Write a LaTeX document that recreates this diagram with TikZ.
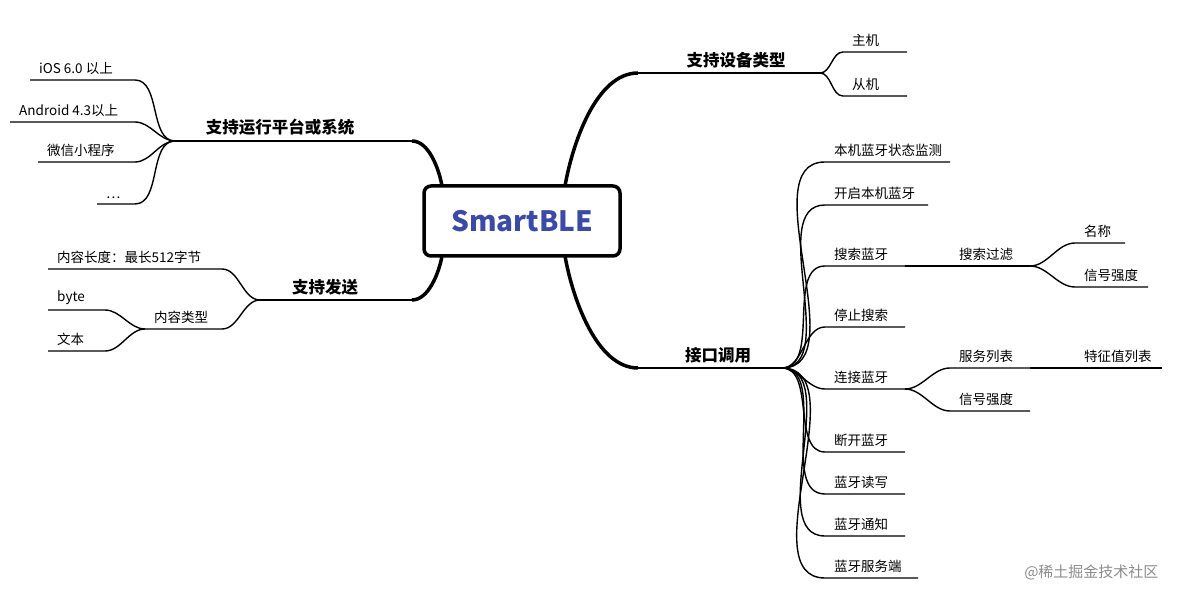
\documentclass[tikz,border=0pt]{standalone}
\usepackage{fontspec}
\setmainfont{Noto Sans CJK SC}
\definecolor{titleblue}{HTML}{3A4AA6}
\begin{document}
\begin{tikzpicture}[x=1pt,y=1pt,
  leaf/.style={anchor=south west,inner xsep=9pt,inner ysep=5pt,font=\fontsize{13.5}{15}\selectfont},
  branch/.style={anchor=south,inner sep=5pt,font=\fontsize{16.5}{18}\selectfont\bfseries},
  thin/.style={line width=1.4pt},
  thick/.style={line width=3.5pt},
  cv/.style={out=0,in=180,looseness=0.9},
  cvl/.style={out=180,in=0,looseness=0.9}]
\useasboundingbox (0,0) rectangle (1179,-601);
% center
\node[draw,line width=3.5pt,rounded corners=7pt,minimum width=196pt,minimum height=70pt,font=\fontsize{28}{32}\selectfont\bfseries,text=titleblue] (c) at (522,-221) {SmartBLE};
% ---- right top
\coordinate (rt0) at (638,-73); \coordinate (rt1) at (820,-73);
\draw[thick] (565,-186) to[out=80,in=180,looseness=0.8] (rt0);
\draw[thin] (rt0) -- (rt1);
\node[branch] (rtl) at (736,-73) {支持设备类型};
\foreach \n/\y/\t in {a/52/主机,b/96/从机}{
  \coordinate (rt\n s) at (843,-\y); \coordinate (rt\n e) at (907,-\y);
  \draw[thin] (rt1) to[cv] (rt\n s) -- (rt\n e);
  \node[leaf] (rt\n) at (rt\n s) {\t};}
% ---- right bottom
\coordinate (rb0) at (638,-368); \coordinate (rb1) at (782,-368);
\draw[thick] (565,-256) to[out=-80,in=180,looseness=0.8] (rb0);
\draw[thin] (rb0) -- (rb1);
\node[branch] (rbl) at (718,-368) {接口调用};
\foreach \n/\y/\w/\t in {a/162/950/本机蓝牙状态监测,b/205/928/开启本机蓝牙,c/266/905/搜索蓝牙,d/327/905/停止搜索,e/389/905/连接蓝牙,f/452/905/断开蓝牙,g/494/905/蓝牙读写,h/536/905/蓝牙通知,i/578/918/蓝牙服务端}{
  \coordinate (rb\n s) at (825,-\y); \coordinate (rb\n e) at (\w,-\y);
  \draw[thin] (rb1) to[cv] (rb\n s) -- (rb\n e);
  \node[leaf] (rb\n) at (rb\n s) {\t};}
% search filter
\coordinate (sf0) at (950,-266); \coordinate (sf1) at (1030,-266);
\draw[thin] (rbce) -- (sf0) -- (sf1);
\node[leaf] (sf) at (sf0) {搜索过滤};
\foreach \n/\y/\w/\t in {a/243/1125/名称,b/287/1148/信号强度}{
  \coordinate (sf\n s) at (1075,-\y); \coordinate (sf\n e) at (\w,-\y);
  \draw[thin] (sf1) to[cv] (sf\n s) -- (sf\n e);
  \node[leaf] (sf\n) at (sf\n s) {\t};}
% connect
\foreach \n/\y/\t in {a/368/服务列表,b/411/信号强度}{
  \coordinate (cn\n s) at (950,-\y); \coordinate (cn\n e) at (1030,-\y);
  \draw[thin] (rbee) to[cv] (cn\n s) -- (cn\n e);
  \node[leaf] (cn\n) at (cn\n s) {\t};}
\coordinate (fvs) at (1075,-368); \coordinate (fve) at (1162,-368);
\draw[thin] (cnae) -- (fvs) -- (fve);
\node[leaf] (fv) at (fvs) {特征值列表};
% ---- left top
\coordinate (lt0) at (412,-141); \coordinate (lt1) at (175,-141);
\draw[thick] (442,-186) to[out=100,in=0,looseness=0.8] (lt0);
\draw[thin] (lt0) -- (lt1);
\node[branch] (ltl) at (280,-141) {支持运行平台或系统};
\foreach \n/\y/\x/\t in {a/80/30/{iOS 6.0 以上},b/122/10/{Android 4.3以上},c/162/38/{微信小程序},d/204/97/{\ldots}}{
  \coordinate (lt\n s) at (135,-\y); \coordinate (lt\n e) at (\x,-\y);
  \draw[thin] (lt1) to[cvl] (lt\n s) -- (lt\n e);
  \node[leaf] (lt\n) at (lt\n e) {\t};}
% ---- left bottom
\coordinate (lb0) at (412,-300); \coordinate (lb1) at (260,-300);
\draw[thick] (442,-256) to[out=-100,in=0,looseness=0.8] (lb0);
\draw[thin] (lb0) -- (lb1);
\node[branch] (lbl) at (325,-300) {支持发送};
\coordinate (lbas) at (222,-269); \coordinate (lbae) at (48,-269);
\draw[thin] (lb1) to[cvl] (lbas) -- (lbae);
\node[leaf] (lba) at (lbae) {内容长度：最长512字节};
\coordinate (lbbs) at (222,-329); \coordinate (lbbe) at (145,-329);
\draw[thin] (lb1) to[cvl] (lbbs) -- (lbbe);
\node[leaf] (lbb) at (lbbe) {内容类型};
\foreach \n/\y/\t in {c/310/byte,d/351/文本}{
  \coordinate (lb\n s) at (105,-\y); \coordinate (lb\n e) at (48,-\y);
  \draw[thin] (lbbe) to[cvl] (lb\n s) -- (lb\n e);
  \node[leaf] (lb\n) at (lb\n e) {\t};}
% watermark
\node[anchor=east,text=black!45,font=\fontsize{15}{17}\selectfont] (wm) at (1162,-572) {@稀土掘金技术社区};
\end{tikzpicture}
\end{document}
